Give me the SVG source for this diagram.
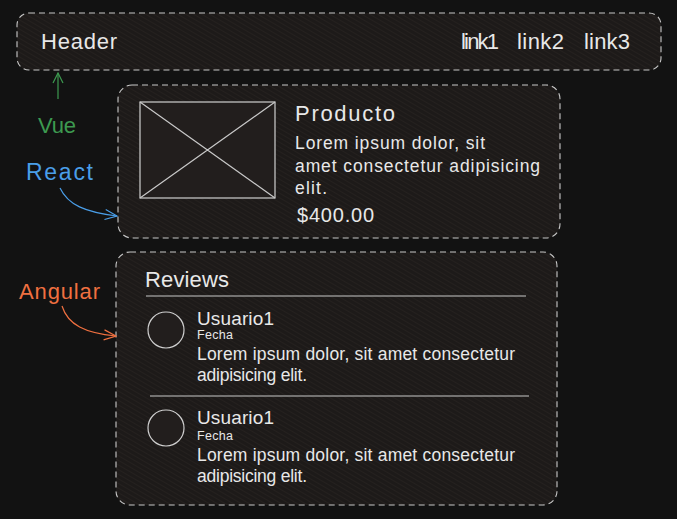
<svg xmlns="http://www.w3.org/2000/svg" width="677" height="519" viewBox="0 0 677 519">
<defs>
<pattern id="hatch" width="4" height="4" patternUnits="userSpaceOnUse" patternTransform="rotate(-60)">
<rect width="4" height="4" fill="#1d1a19"/>
<line x1="0" y1="0" x2="0" y2="4" stroke="#2a2523" stroke-width="1.2"/>
</pattern>
<marker id="ag" viewBox="0 0 12 12" refX="11" refY="6" markerWidth="12" markerHeight="12" markerUnits="userSpaceOnUse" orient="auto"><path d="M1,1 L11,6 L1,11" fill="none" stroke="#3d9a50" stroke-width="1.2"/></marker>
<marker id="ab" viewBox="0 0 14 12" refX="13" refY="6" markerWidth="14" markerHeight="12" markerUnits="userSpaceOnUse" orient="auto"><path d="M1,1 L13,6 L1,11" fill="none" stroke="#4a9ee8" stroke-width="1.2"/></marker>
<marker id="ao" viewBox="0 0 14 12" refX="13" refY="6" markerWidth="14" markerHeight="12" markerUnits="userSpaceOnUse" orient="auto"><path d="M1,1 L13,6 L1,11" fill="none" stroke="#f07040" stroke-width="1.2"/></marker>
</defs>
<style>
.box{fill:url(#hatch);stroke:#c8c8c8;stroke-width:1.1;stroke-dasharray:6 4}
.t{font-family:"Liberation Sans",Arial,sans-serif;fill:#e8e8e8}
.h{font-size:22px}
.p{font-size:17.5px}
.s{font-size:12.5px}
.ln{stroke:#c8c8c8;stroke-width:1.2;fill:none}
</style>
<rect width="677" height="519" fill="#121212"/>
<g id="header">
<rect class="box" x="17" y="13" width="644" height="57" rx="12"/>
<text class="t h" x="41" y="49" textLength="76">Header</text>
<text class="t h" x="461" y="49" textLength="38">link1</text>
<text class="t h" x="517" y="49" textLength="47">link2</text>
<text class="t h" x="584" y="49" textLength="46">link3</text>
</g>
<g id="producto">
<rect class="box" x="118" y="85" width="442" height="153" rx="14"/>
<rect x="140" y="102" width="135" height="96" fill="#221e1d" stroke="#cfcfcf" stroke-width="1.2"/>
<path class="ln" d="M140,102 L275,198 M275,102 L140,198"/>
<text class="t h" x="295" y="121" textLength="100">Producto</text>
<text class="t p" x="295" y="149" textLength="190">Lorem ipsum dolor, sit</text>
<text class="t p" x="295" y="172" textLength="245">amet consectetur adipisicing</text>
<text class="t p" x="295" y="194" textLength="32">elit.</text>
<text class="t" x="297" y="222" font-size="20" textLength="77">$400.00</text>
</g>
<g id="reviews">
<rect class="box" x="116" y="252" width="441" height="253" rx="14"/>
<text class="t h" x="145" y="287" textLength="84">Reviews</text>
<line class="ln" x1="146" y1="296" x2="526" y2="296"/>
<circle cx="166" cy="330" r="18" fill="#221e1d" stroke="#cfcfcf" stroke-width="1.2"/>
<text class="t" x="197" y="325" font-size="19" textLength="77">Usuario1</text>
<text class="t s" x="197" y="339" textLength="36">Fecha</text>
<text class="t p" x="197" y="360" textLength="318">Lorem ipsum dolor, sit amet consectetur</text>
<text class="t p" x="197" y="381" textLength="110">adipisicing elit.</text>
<line class="ln" x1="150" y1="396" x2="529" y2="396"/>
<circle cx="166" cy="428" r="18" fill="#221e1d" stroke="#cfcfcf" stroke-width="1.2"/>
<text class="t" x="197" y="424" font-size="19" textLength="77">Usuario1</text>
<text class="t s" x="197" y="440" textLength="36">Fecha</text>
<text class="t p" x="197" y="461" textLength="318">Lorem ipsum dolor, sit amet consectetur</text>
<text class="t p" x="197" y="482" textLength="110">adipisicing elit.</text>
</g>
<g id="labels" font-family="'Liberation Sans',Arial,sans-serif">
<text id="vue" x="38" y="133" font-size="22" fill="#3d9a50" textLength="38">Vue</text>
<text id="react" x="26" y="180" font-size="23" fill="#4a9ee8" textLength="67">React</text>
<text id="angular" x="19" y="299" font-size="22" fill="#f07040" textLength="81">Angular</text>
</g>
<g id="connectors" fill="none" stroke-width="1.2">
<path d="M58,99 L58,73" stroke="#3d9a50" marker-end="url(#ag)"/>
<path d="M60,188 C68,205 85,212 117,216" stroke="#4a9ee8" marker-end="url(#ab)"/>
<path d="M62,306 C68,325 85,333 116,336" stroke="#f07040" marker-end="url(#ao)"/>
</g>
</svg>
